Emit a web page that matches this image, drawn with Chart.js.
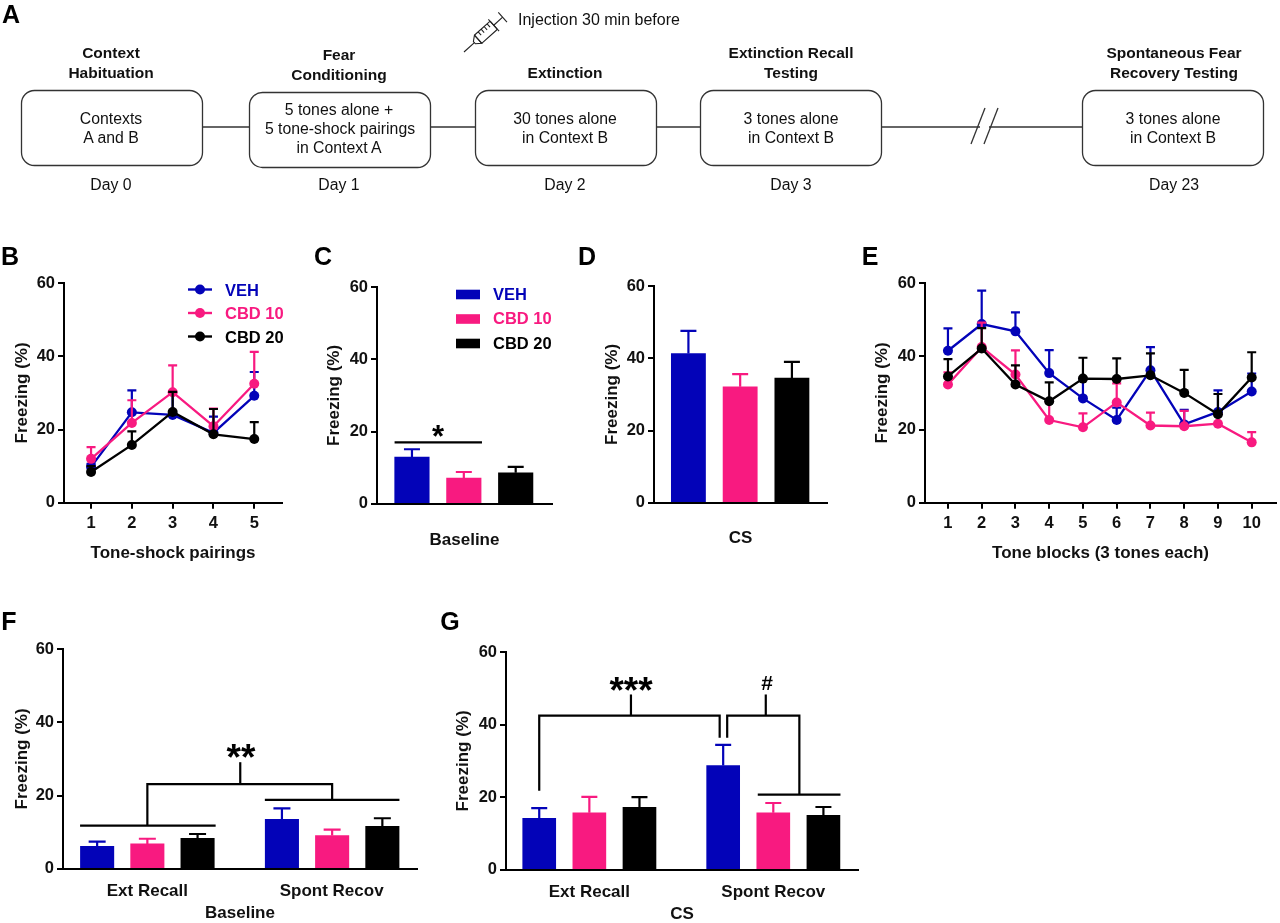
<!DOCTYPE html>
<html><head><meta charset="utf-8">
<script src="https://cdn.jsdelivr.net/npm/chart.js@4"></script>
<style>
html,body{margin:0;padding:0;background:#fff;width:1280px;height:923px;overflow:hidden}
canvas{position:absolute;display:block}
.t{position:absolute;transform:translate(-50%,-50%);white-space:nowrap;font-family:"Liberation Sans",Arial,sans-serif;color:#111;line-height:1;z-index:5}
.l{transform:translate(0,-50%)}
svg{position:absolute;left:0;top:0;z-index:4}
</style></head><body>
<svg id="art" width="1280" height="923" fill="none" stroke="#333" stroke-width="1.3"></svg>
<script>
const BLUE='#0303b8', PINK='#f81a80', BLACK='#000000';
const seriesNames=['VEH','CBD 10','CBD 20'];
const seriesColors=[BLUE,PINK,BLACK];

// Panel B
const pairings=[1,2,3,4,5];
const bVeh=[9.8,24.7,24,19.1,29.2];
const bVehTop=[10.6,30.7,30.2,23.5,35.7];
const bC10=[12,21.8,30.2,20.9,32.5];
const bC10Top=[15.2,28,37.5,25.7,41.2];
const bC20=[8.4,15.8,24.8,18.7,17.4];
const bC20Top=[10,19.5,30.3,25.6,22];

// Panel E
const blocks=[1,2,3,4,5,6,7,8,9,10];
const eVeh=[41.5,48.8,46.8,35.4,28.5,22.6,36.2,21.4,24.8,30.4];
const eVehTop=[47.6,57.9,52,41.7,33.9,26,42.5,25.4,30.7,35.3];
const eC10=[32.3,42.5,35,22.6,20.6,27.4,21.1,20.9,21.6,16.5];
const eC10Top=[35.6,49.2,41.6,27.7,24.4,32.6,24.6,25.1,24.2,19.3];
const eC20=[34.5,42.1,32.3,27.7,33.9,33.8,34.8,30,24.2,34.2];
const eC20Top=[39.2,47.7,37.5,32.9,39.6,39.4,40.8,36.3,29.7,41.1];

// Panel C
const cVeh=[12.9], cVehTop=[15.1];
const cC10=[7.1], cC10Top=[8.8];
const cC20=[8.6], cC20Top=[10.2];
const cBrackets=[[[0.665,17],[2.35,17]]];

// Panel D
const dVeh=[41.3], dVehTop=[47.6];
const dC10=[32.1], dC10Top=[35.6];
const dC20=[34.5], dC20Top=[39];

// Panels F and G
const groupNames=['Ext Recall','Spont Recov'];
const fVeh=[6.1,13.5], fVehTop=[7.4,16.5];
const fC10=[6.8,9.1], fC10Top=[8.2,10.7];
const fC20=[8.3,11.6], fC20Top=[9.5,13.8];
const fBrackets=[
  [[0.66,11.8],[3.36,11.8]],
  [[4.34,18.8],[7.02,18.8]],
  [[2,11.8],[2,23.1],[5.68,23.1],[5.68,18.8]],
  [[3.85,23.1],[3.85,29.1]]
];
const gVeh=[14.2,28.7], gVehTop=[17,34.4];
const gC10=[15.7,15.7], gC10Top=[20.1,18.4];
const gC20=[17.2,15], gC20Top=[20,17.3];
const gBrackets=[
  [[1,21.8],[1,42.5],[4.6,42.5],[4.6,36.4]],
  [[4.75,36.4],[4.75,42.5],[6.19,42.5],[6.19,20.7]],
  [[5.36,20.7],[7.01,20.7]],
  [[2.83,42.5],[2.83,48.3]],
  [[5.52,42.5],[5.52,48.3]]
];
const yTicks=[0,20,40,60];

const FONT='"Liberation Sans",Arial,sans-serif';
const errorBars={id:'errorBars',beforeDatasetDraw(chart,args,opts){
  const ds=chart.data.datasets[args.index]; if(!ds.errTop) return;
  const y=chart.scales.y, c=chart.ctx; c.save();
  c.strokeStyle=ds.borderColor; c.lineWidth=2.2;
  args.meta.data.forEach((el,i)=>{
    const top=y.getPixelForValue(ds.errTop[i]), base=y.getPixelForValue(ds.data[i].y);
    c.beginPath(); c.moveTo(el.x,base); c.lineTo(el.x,top);
    c.moveTo(el.x-opts.cap/2,top); c.lineTo(el.x+opts.cap/2,top); c.stroke();
  }); c.restore();
}};
const brackets={id:'brackets',afterDatasetsDraw(chart,args,opts){
  const {x,y}=chart.scales, c=chart.ctx; c.save();
  c.strokeStyle='#000'; c.lineWidth=2.2; c.lineJoin='miter';
  (opts.lines||[]).forEach(p=>{c.beginPath();
    p.forEach((q,i)=>{const a=x.getPixelForValue(q[0]),b=y.getPixelForValue(q[1]); i?c.lineTo(a,b):c.moveTo(a,b);});
    c.stroke();});
  c.restore();
}};
Chart.register(errorBars,brackets);

function panel(p){
  const Wy=60,T=14,R=4,titleLH=17*1.2;
  const Hx=p.xTitleY+titleLH/2-p.b;
  const cv=document.createElement('canvas');
  const W=Wy+p.r-p.l+R, H=Math.ceil(T+p.b-p.t+Hx);
  cv.width=W;cv.height=H;
  cv.style.left=(p.l-Wy)+'px';cv.style.top=(p.t-T)+'px';cv.style.width=W+'px';cv.style.height=H+'px';
  document.body.appendChild(cv);
  const datasets=p.series.map((s,i)=>({
    label:seriesNames[i],
    data:p.xs[i].map((x,k)=>({x,y:s.v[k]})),
    errTop:s.top,
    order:3-i,
    borderColor:seriesColors[i],
    backgroundColor:seriesColors[i],
    ...(p.type==='line'?{borderWidth:2.3,pointRadius:5,pointBorderWidth:0,pointBackgroundColor:seriesColors[i],tension:0}
      :{borderWidth:0,grouped:false,barPercentage:1,categoryPercentage:1,maxBarThickness:p.barW})
  }));
  new Chart(cv,{type:p.type,data:{datasets},options:{
    responsive:false,maintainAspectRatio:false,animation:false,
    layout:{padding:{top:T,right:R,left:0,bottom:0}},
    plugins:{legend:{display:false},tooltip:{enabled:false},errorBars:{cap:p.cap},brackets:{lines:p.brackets||[]}},
    scales:{
      x:{type:'linear',min:p.xMin,max:p.xMax,offset:false,
        afterBuildTicks:s=>{s.ticks=(p.xTicks||[]).map(value=>({value}));},
        afterFit:s=>{s.height=Hx;},
        border:{display:true,color:'#000',width:2,z:1},
        grid:{display:!!p.xMarks,drawOnChartArea:false,drawTicks:!!p.xMarks,tickLength:6,color:'#000',lineWidth:2,z:1},
        ticks:{display:!!p.xTicks,autoSkip:false,maxRotation:0,color:'#111',padding:p.xPad,
          font:{family:FONT,weight:'bold',size:p.xFont},
          callback:p.xNames?(v=>p.xNames[p.xTicks.indexOf(v)]):(v=>String(v))},
        title:{display:true,text:p.xTitle,color:'#111',padding:{top:0,bottom:0},
          font:{family:FONT,weight:'bold',size:17,lineHeight:1.2}}
      },
      y:{type:'linear',min:0,max:60,
        afterBuildTicks:s=>{s.ticks=yTicks.map(value=>({value}));},
        afterFit:s=>{s.width=Wy;},
        border:{display:true,color:'#000',width:2,z:1},
        grid:{drawOnChartArea:false,tickLength:6,color:'#000',lineWidth:2,z:1},
        ticks:{color:'#111',padding:3,font:{family:FONT,weight:'bold',size:16.5},callback:v=>String(v)},
        title:{display:true,text:'Freezing (%)',color:'#111',
          padding:{top:p.yTitleX-(p.l-Wy)-titleLH/2,bottom:0},
          font:{family:FONT,weight:'bold',size:17,lineHeight:1.2}}
      }
    }
  }});
}
const lineCommon={type:'line',cap:9,xFont:16.5,xPad:5,xMarks:true};
panel({...lineCommon,l:64,t:283,r:283,b:502,xMin:0.337,xMax:5.68,xTicks:pairings,xTitle:'Tone-shock pairings',xTitleY:553,yTitleX:22,
  xs:[pairings,pairings,pairings],series:[{v:bVeh,top:bVehTop},{v:bC10,top:bC10Top},{v:bC20,top:bC20Top}]});
panel({...lineCommon,l:925,t:283,r:1277,b:502,xMin:0.32,xMax:10.72,xTicks:blocks,xTitle:'Tone blocks (3 tones each)',xTitleY:553,yTitleX:882,
  xs:[blocks,blocks,blocks],series:[{v:eVeh,top:eVehTop},{v:eC10,top:eC10Top},{v:eC20,top:eC20Top}]});
panel({type:'bar',cap:16,barW:34.5,xFont:16,xPad:0,l:377,t:287,r:552,b:503,xMin:0.326,xMax:3.70,xTitle:'Baseline',xTitleY:540,yTitleX:334,
  xs:[[1],[2],[3]],series:[{v:cVeh,top:cVehTop},{v:cC10,top:cC10Top},{v:cC20,top:cC20Top}],brackets:cBrackets});
panel({type:'bar',cap:16,barW:34.2,xFont:16,xPad:0,l:654,t:286,r:827,b:502,xMin:0.335,xMax:3.678,xTitle:'CS',xTitleY:538,yTitleX:612,
  xs:[[1],[2],[3]],series:[{v:dVeh,top:dVehTop},{v:dC10,top:dC10Top},{v:dC20,top:dC20Top}]});
const groupCenters=[2,5.67];
panel({type:'bar',cap:17,barW:33.4,xFont:17,xPad:12,l:63,t:649,r:417,b:868,xMin:0.32,xMax:7.37,xTicks:groupCenters,xNames:groupNames,xTitle:'Baseline',xTitleY:913,yTitleX:22,
  xs:[[1,4.68],[2,5.68],[3,6.68]],series:[{v:fVeh,top:fVehTop},{v:fC10,top:fC10Top},{v:fC20,top:fC20Top}],brackets:fBrackets});
panel({type:'bar',cap:16,barW:33,xFont:17,xPad:12,l:506,t:652,r:858,b:869,xMin:0.337,xMax:7.36,xTicks:groupCenters,xNames:groupNames,xTitle:'CS',xTitleY:914,yTitleX:463,
  xs:[[1,4.67],[2,5.67],[3,6.67]],series:[{v:gVeh,top:gVehTop},{v:gC10,top:gC10Top},{v:gC20,top:gC20Top}],brackets:gBrackets});

// overlay text
function txt(s,x,y,o={}){const d=document.createElement('div');d.className='t'+(o.left?' l':'');d.textContent=s;
  d.style.left=x+'px';d.style.top=y+'px';d.style.fontSize=(o.size||15.8)+'px';d.style.fontWeight=o.bold?'bold':'normal';
  if(o.color)d.style.color=o.color;document.body.appendChild(d);}
[['A',11,14],['B',10,256],['C',323,256],['D',587,256],['E',870,256],['F',9,621],['G',450,621]]
  .forEach(a=>txt(a[0],a[1],a[2],{size:25,bold:true,color:'#000'}));
[['Context',111,53],['Habituation',111,73],['Fear',339,55],['Conditioning',339,75],['Extinction',565,73],
 ['Extinction Recall',791,53],['Testing',791,73],['Spontaneous Fear',1174,53],['Recovery Testing',1174,73]]
  .forEach(a=>txt(a[0],a[1],a[2],{bold:true,size:15.5}));
[['Contexts',111,119],['A and B',111,138],['5 tones alone +',339,110],['5 tone-shock pairings',340,129],['in Context A',339,148],
 ['30 tones alone',565,119],['in Context B',565,138],['3 tones alone',791,119],['in Context B',791,138],
 ['3 tones alone',1173,119],['in Context B',1173,138],['Day 0',111,185],['Day 1',339,185],['Day 2',565,185],['Day 3',791,185],['Day 23',1174,185]]
  .forEach(a=>txt(a[0],a[1],a[2]));
txt('Injection 30 min before',518,20,{left:true,size:16});
txt('*',438,436,{bold:true,size:31,color:'#000'});
txt('**',241,757,{bold:true,size:37,color:'#000'});
txt('***',631,690,{bold:true,size:37,color:'#000'});
txt('#',767,682,{bold:true,size:21,color:'#000'});
seriesNames.forEach((n,i)=>{
  txt(n,225,[289.5,313,336.5][i],{left:true,bold:true,size:16.5,color:seriesColors[i]});
  txt(n,493,[294,318.3,342.7][i],{left:true,bold:true,size:16.5,color:seriesColors[i]});
});

// schematic and legend keys
const art=document.getElementById('art');let h='';
[[21,90],[249,92],[475,90],[700,90],[1082,90]].forEach(b=>{h+=`<rect x="${b[0]}.5" y="${b[1]}.5" width="181" height="75" rx="13"/>`;});
[[202,249],[430,475],[656,700],[881,1082]].forEach(s=>{h+=`<line x1="${s[0]}" x2="${s[1]}" y1="127" y2="127"/>`;});
h+=`<g stroke="#fff" stroke-width="5"><line x1="980" x2="989" y1="127" y2="127"/></g>`;
h+=`<line x1="971" y1="144" x2="985" y2="108"/><line x1="984" y1="144" x2="998" y2="108"/>`;
h+=`<g transform="translate(464,52) rotate(-42)" stroke="#222" stroke-width="1.1">
<line x1="0" y1="0" x2="14" y2="0"/><path d="M14 -1.5L19 -5.5V5.5L14 1.5Z"/><rect x="19" y="-5.5" width="21" height="11" rx="1"/>
<line x1="40" y1="-8" x2="40" y2="8"/><line x1="40" y1="0" x2="52" y2="0"/><line x1="52" y1="-6.5" x2="52" y2="6.5"/>
<path d="M24 -5.5V-1M28 -5.5V-1M32 -5.5V-1M36 -5.5V-1"/></g>`;
seriesColors.forEach((c,i)=>{const y=[289.5,313,336.5][i];
  h+=`<line x1="188" x2="212" y1="${y}" y2="${y}" stroke="${c}" stroke-width="2.4"/><circle cx="200" cy="${y}" r="5" fill="${c}" stroke="none"/>`;
  const y2=[294.5,319,343.5][i];
  h+=`<rect x="456" y="${y2-4.8}" width="24" height="9.6" fill="${c}" stroke="none"/>`;
});
art.innerHTML=h;
</script></body></html>
